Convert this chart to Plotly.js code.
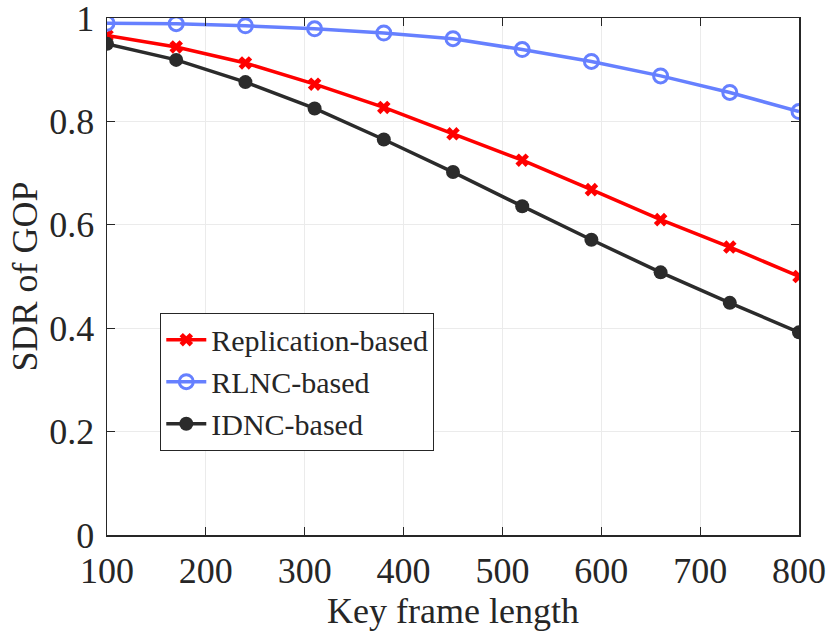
<!DOCTYPE html>
<html><head><meta charset="utf-8">
<script src="https://cdn.plot.ly/plotly-3.0.1.min.js"></script>
<style>html,body{margin:0;padding:0;background:#fff}</style>
</head><body><div id="chart" style="width:827px;height:636px"></div>
<script>
const keyFrameLength = [100,170,240,310,380,450,520,590,660,730,800];
const replication = [0.966,0.944,0.913,0.872,0.827,0.776,0.725,0.668,0.610,0.557,0.500];
const rlnc = [0.990,0.989,0.985,0.979,0.971,0.960,0.939,0.916,0.888,0.856,0.819];
const idnc = [0.950,0.919,0.876,0.825,0.765,0.702,0.636,0.571,0.508,0.449,0.392];
const seriesNames = ['Replication-based','RLNC-based','IDNC-based'];
const xTicks = [100,200,300,400,500,600,700,800];
const yTicks = [0,0.2,0.4,0.6,0.8,1];
const yTickText = ['0','0.2','0.4','0.6','0.8','1'];

const font = 'Liberation Serif, Times New Roman, serif';
const traces = [
  {x:keyFrameLength,y:replication,name:seriesNames[0],mode:'lines+markers',
   line:{color:'#ff0000',width:3.5},marker:{symbol:'x',size:12,color:'#ff0000'}},
  {x:keyFrameLength,y:rlnc,name:seriesNames[1],mode:'lines+markers',
   line:{color:'#6680ff',width:3.5},marker:{symbol:'circle-open',size:14,color:'#6680ff',line:{width:3,color:'#6680ff'}}},
  {x:keyFrameLength,y:idnc,name:seriesNames[2],mode:'lines+markers',
   line:{color:'#2b2b2b',width:3.5},marker:{symbol:'circle',size:14,color:'#2b2b2b'}}
];
const axCommon = {showline:true,mirror:'ticks',linecolor:'#262626',linewidth:1.5,ticks:'inside',ticklen:8,
  tickcolor:'#262626',tickwidth:1.2,showgrid:true,gridcolor:'#ebebeb',gridwidth:1,zeroline:false,automargin:false,
  ticklabeloverflow:'allow',tickfont:{family:font,size:36,color:'#262626'}};
const layout = {
  width:827,height:636,margin:{l:107,r:28,t:18,b:101},
  paper_bgcolor:'#fff',plot_bgcolor:'#fff',
  xaxis:Object.assign({},axCommon,{range:[100,800],tickvals:xTicks,ticktext:xTicks.map(String),ticklabelstandoff:3,
    title:{text:'Key frame length',font:{family:font,size:36,color:'#262626'},standoff:6}}),
  yaxis:Object.assign({},axCommon,{range:[0,1],tickvals:yTicks,ticktext:yTickText,ticklabelstandoff:4,
    title:{text:'SDR of GOP',font:{family:font,size:36,color:'#262626'},standoff:0}}),
  legend:{x:0.077,y:0.43,xanchor:'left',yanchor:'top',bgcolor:'#fff',bordercolor:'#262626',borderwidth:1,
    font:{family:font,size:30,color:'#262626'},tracegroupgap:0,itemwidth:40},
  showlegend:true
};
Plotly.newPlot('chart',traces,layout,{displayModeBar:false,staticPlot:true});
</script></body></html>
